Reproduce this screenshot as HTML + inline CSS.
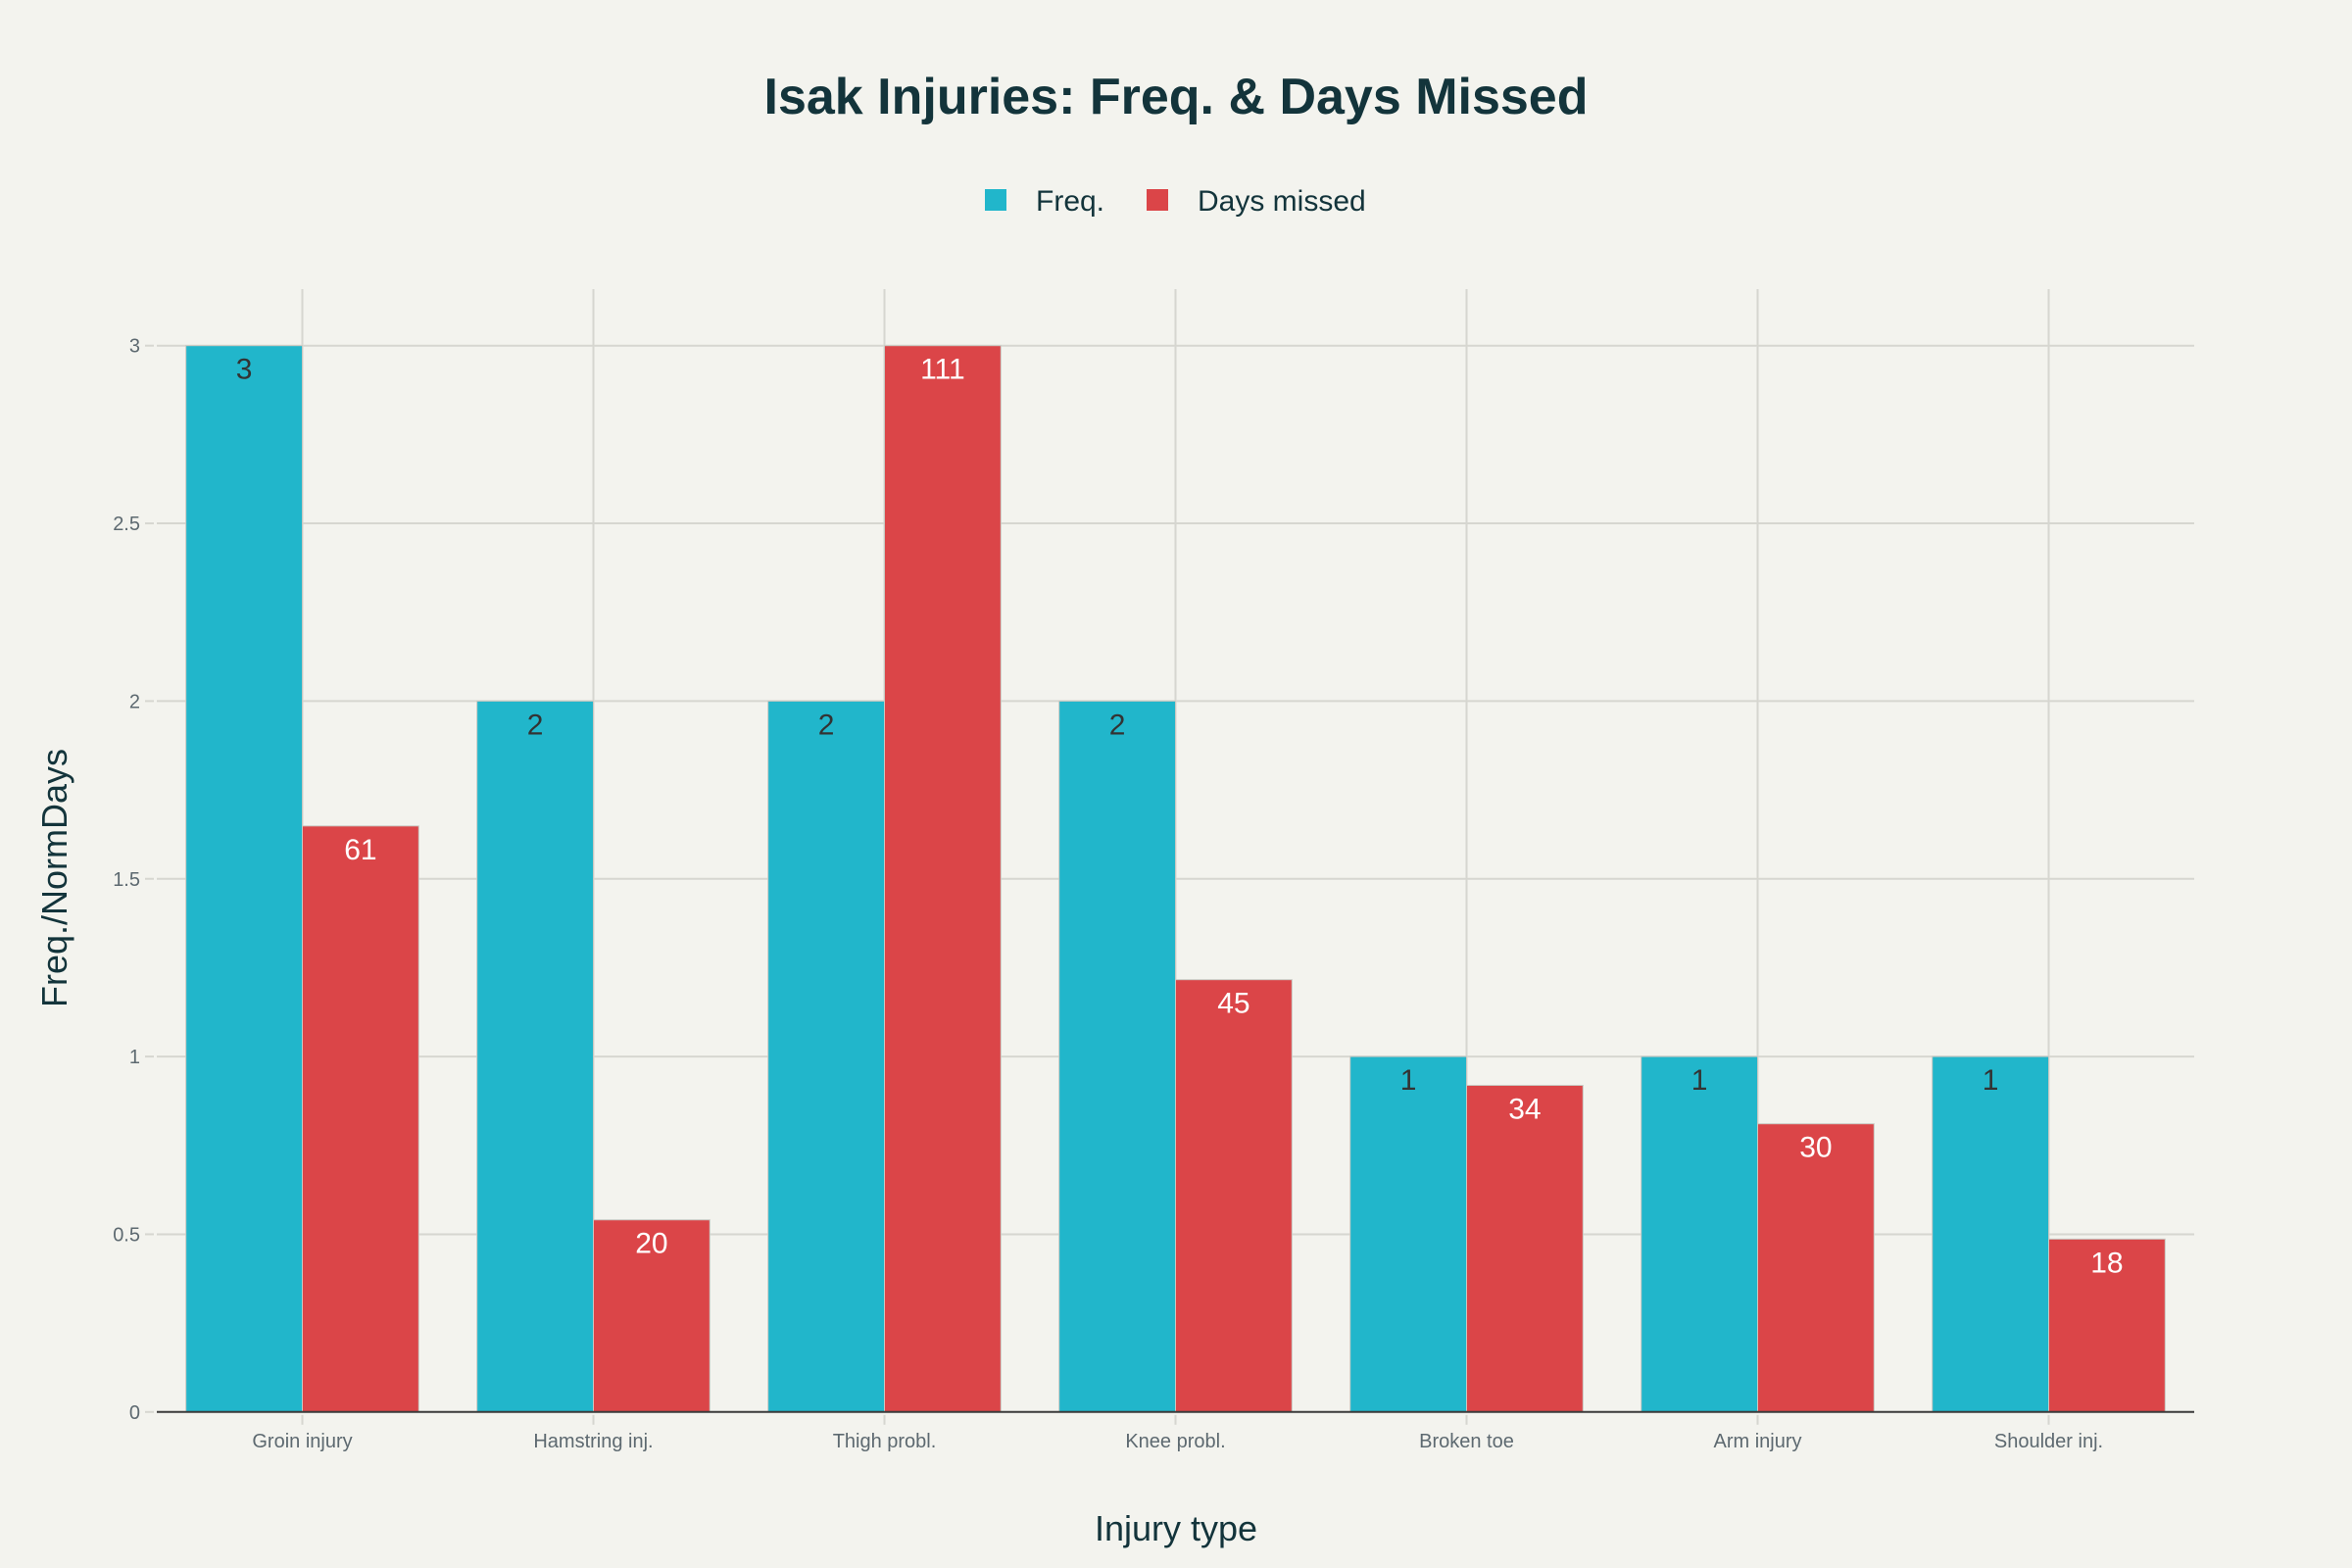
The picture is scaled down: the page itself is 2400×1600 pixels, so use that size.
<!DOCTYPE html>
<html><head><meta charset="utf-8"><style>
body{margin:0;background:#f3f3ee;}
svg{display:block;font-family:"Liberation Sans",sans-serif;}
</style></head><body>
<svg id="chart" width="2400" height="1600" viewBox="0 0 2400 1600">
<rect width="2400" height="1600" fill="#f3f3ee"/>
<text x="1200" y="116" text-anchor="middle" font-size="52" font-weight="bold" fill="#13343b">Isak Injuries: Freq. &amp; Days Missed</text>
<g>
<rect x="1005" y="193" width="22" height="22" fill="#21b6cb"/>
<text x="1057" y="215" font-size="30" fill="#13343b">Freq.</text>
<rect x="1170" y="193" width="22" height="22" fill="#db4548"/>
<text x="1222" y="215" font-size="30" fill="#13343b">Days missed</text>
</g>
<g id="grid"></g><g id="bars"></g><g id="axes"></g>
<text x="1200" y="1572" text-anchor="middle" font-size="36" fill="#13343b">Injury type</text>
<text transform="translate(68,896) rotate(-90)" text-anchor="middle" font-size="36" fill="#13343b">Freq./NormDays</text>
</svg>
<script>
const categories=["Groin injury","Hamstring inj.","Thigh probl.","Knee probl.","Broken toe","Arm injury","Shoulder inj."];
const freq=[3,2,2,2,1,1,1];
const days=[61,20,111,45,34,30,18];
const yTicks=[0,0.5,1,1.5,2,2.5,3];
const yTickLabels=["0","0.5","1","1.5","2","2.5","3"];
const NS="http://www.w3.org/2000/svg";
const L=160,R=2239,Y0=1440.8,PX=362.7;
const band=(R-L)/categories.length, bw=band*0.4;
const y=v=>Y0-v*PX;
const xc=i=>L+band*(i+0.5);
const maxDays=Math.max(...days), maxFreq=Math.max(...freq);
function mk(t,a,p){const e=document.createElementNS(NS,t);for(const k in a)e.setAttribute(k,a[k]);p.appendChild(e);return e;}
const grid=document.getElementById('grid'),bars=document.getElementById('bars'),axes=document.getElementById('axes');
yTicks.forEach((v,i)=>{
 if(v>0){const g=mk('line',{x1:L,x2:R,y1:y(v),y2:y(v),stroke:'#d6d6d0','stroke-width':2},grid);
 
 }
 const tk=mk('line',{x1:148,x2:157,y1:y(v),y2:y(v),stroke:'#d6d6d0','stroke-width':2},axes);
 
 
 const t=mk('text',{x:143,y:y(v)+7,'text-anchor':'end','font-size':20,fill:'#5d6970'},axes);
 t.textContent=yTickLabels[i];
 
 
});
categories.forEach((c,i)=>{
 const g=mk('line',{x1:xc(i),x2:xc(i),y1:295,y2:Y0,stroke:'#d6d6d0','stroke-width':2},grid);
 
 
 const fv=freq[i], dv=days[i]/maxDays*maxFreq;
 const b1=mk('rect',{x:xc(i)-bw,y:y(fv),width:bw,height:Y0-y(fv),fill:'#21b6cb',stroke:'#c8c8c2','stroke-width':1},bars);
 
 
 const b2=mk('rect',{x:xc(i),y:y(dv),width:bw,height:Y0-y(dv),fill:'#db4548',stroke:'#c8c8c2','stroke-width':1},bars);
 
 
 const t1=mk('text',{x:xc(i)-bw/2,y:y(fv)+34,'text-anchor':'middle','font-size':30,fill:'#333'},bars);
 t1.textContent=fv;
 
 
 const t2=mk('text',{x:xc(i)+bw/2,y:y(dv)+34,'text-anchor':'middle','font-size':30,fill:'#fff'},bars);
 t2.textContent=days[i];
 
 
 const tk=mk('line',{x1:xc(i),x2:xc(i),y1:Y0+3,y2:Y0+13,stroke:'#d6d6d0','stroke-width':2},axes);
 
 
 const tl=mk('text',{x:xc(i),y:1477,'text-anchor':'middle','font-size':20,fill:'#5d6970'},axes);
 tl.textContent=c;
 
 
});
const ax=mk('line',{x1:L,x2:R,y1:Y0,y2:Y0,stroke:'#3a3a3a','stroke-width':2},axes);


</script>
</body></html>
